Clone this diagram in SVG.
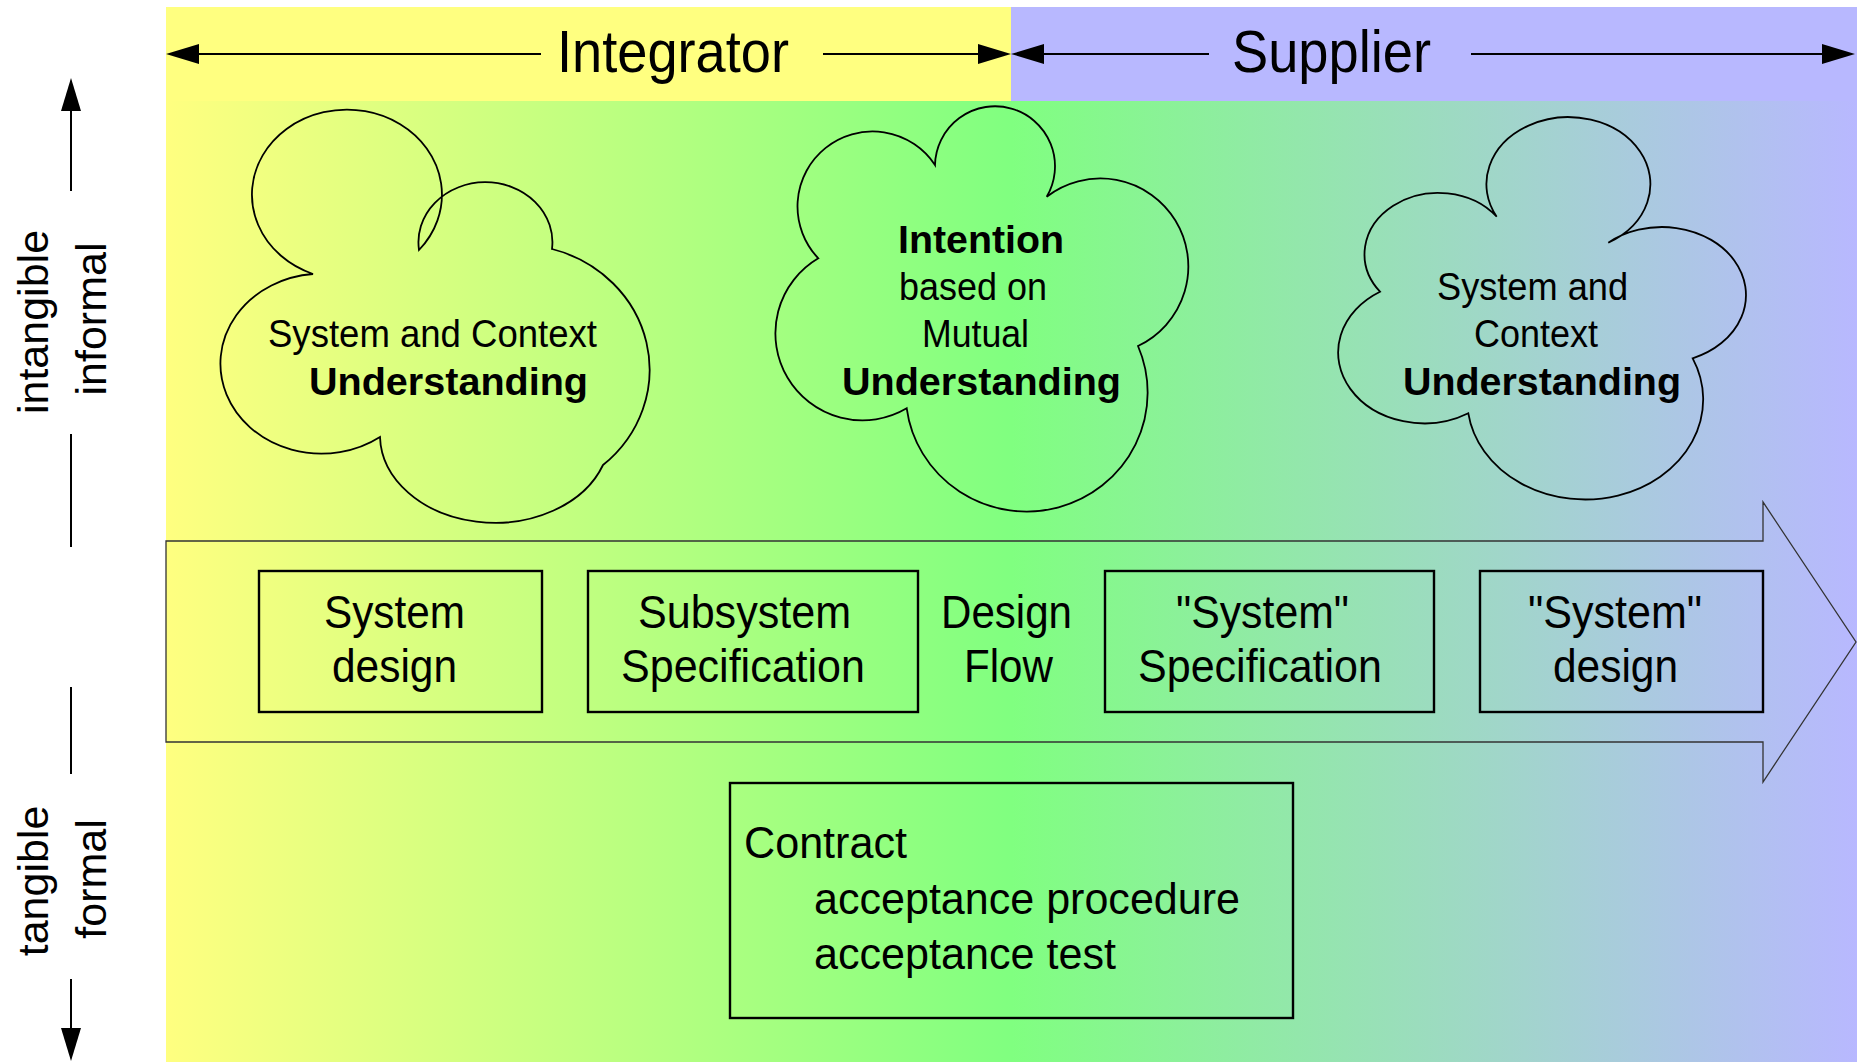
<svg xmlns="http://www.w3.org/2000/svg" width="1860" height="1062" viewBox="0 0 1860 1062">
<defs>
<linearGradient id="bg" gradientUnits="userSpaceOnUse" x1="166" y1="0" x2="1857" y2="0">
<stop offset="0" stop-color="#ffff80"/>
<stop offset="0.5" stop-color="#80ff80"/>
<stop offset="1" stop-color="#b8b8ff"/>
</linearGradient>
<marker id="ah" markerUnits="userSpaceOnUse" markerWidth="33" markerHeight="20" refX="0" refY="10" orient="auto-start-reverse" viewBox="0 0 33 20">
<path d="M0,0 L33,10 L0,20 Z" fill="#000"/>
</marker>
</defs>
<style>
text{font-family:"Liberation Sans",Arial,Helvetica,sans-serif;fill:#000}
.band{font-size:60px}
.cl{font-size:38px}
.b{font-weight:bold}
.bx{font-size:46px}
.ct{font-size:44px}
.side{font-size:43px;text-anchor:middle}
.cloud{fill:none;stroke:#000;stroke-width:1.8;stroke-linejoin:miter}
.box{fill:none;stroke:#000;stroke-width:2.4}
.ln{stroke:#000;stroke-width:2;fill:none}
</style>

<g id="background">
<rect x="166" y="101" width="1691" height="961" fill="url(#bg)"/>
<rect x="166" y="7" width="845" height="94" fill="#ffff80"/>
<rect x="1011" y="7" width="846" height="94" fill="#b8b8ff"/>
</g>

<g id="labels-band">
<text class="band" x="557" y="72" textLength="232" lengthAdjust="spacingAndGlyphs">Integrator</text>
<text class="band" x="1232" y="72" textLength="199" lengthAdjust="spacingAndGlyphs">Supplier</text>
</g>

<g id="side-labels">
<text class="side" transform="translate(48,322) rotate(-90)">intangible</text>
<text class="side" transform="translate(106,319) rotate(-90)">informal</text>
<text class="side" transform="translate(48,881) rotate(-90)">tangible</text>
<text class="side" transform="translate(106,879) rotate(-90)">formal</text>
</g>

<g id="design-flow">
<path d="M166,541 H1763 V502 L1856,642 L1763,782 V742 H166 Z" fill="none" stroke="#333" stroke-width="1.3"/>
<text class="bx" x="941" y="628" textLength="131" lengthAdjust="spacingAndGlyphs">Design</text>
<text class="bx" x="964" y="682" textLength="89" lengthAdjust="spacingAndGlyphs">Flow</text>
</g>

<g id="cloud-integrator">
<path class="cloud" d="M313,274 A95,85 0 1 1 419,250 A67,60 0 1 1 552,249 A132,125 0 0 1 603,465 A115,88 0 0 1 380,437 A101,90 0 1 1 313,274 Z"/>
<text class="cl" x="268" y="347" textLength="329" lengthAdjust="spacingAndGlyphs">System and Context</text>
<text class="cl b" x="309" y="395" textLength="279" lengthAdjust="spacingAndGlyphs">Understanding</text>
</g>

<g id="cloud-intention">
<path class="cloud" d="M935,165 A60,60 0 1 1 1046.7,196.7 A88,88 0 1 1 1138,346 A121,119 0 1 1 906.7,408.3 A85,85 0 1 1 818.3,258.3 A75,75 0 1 1 935,165 Z"/>
<text class="cl b" x="898" y="253" textLength="166" lengthAdjust="spacingAndGlyphs">Intention</text>
<text class="cl" x="899" y="300" textLength="148" lengthAdjust="spacingAndGlyphs">based on</text>
<text class="cl" x="922" y="347" textLength="107" lengthAdjust="spacingAndGlyphs">Mutual</text>
<text class="cl b" x="842" y="395" textLength="279" lengthAdjust="spacingAndGlyphs">Understanding</text>
</g>

<g id="cloud-supplier">
<path class="cloud" d="M1496.7,216.7 A82,67 0 1 1 1608.3,242.7 A84,68 0 1 1 1692.7,358.3 A118,100 0 1 1 1468.3,413.3 A85,70 0 1 1 1380,291.7 A71,59 0 1 1 1496.7,216.7 Z"/>
<text class="cl" x="1437" y="300" textLength="191" lengthAdjust="spacingAndGlyphs">System and</text>
<text class="cl" x="1474" y="347" textLength="124" lengthAdjust="spacingAndGlyphs">Context</text>
<text class="cl b" x="1403" y="395" textLength="278" lengthAdjust="spacingAndGlyphs">Understanding</text>
</g>

<g id="box-system-design">
<rect class="box" x="259" y="571" width="283" height="141"/>
<text class="bx" x="324" y="628" textLength="141" lengthAdjust="spacingAndGlyphs">System</text>
<text class="bx" x="332" y="682" textLength="125" lengthAdjust="spacingAndGlyphs">design</text>
</g>

<g id="box-subsystem-spec">
<rect class="box" x="588" y="571" width="330" height="141"/>
<text class="bx" x="638" y="628" textLength="213" lengthAdjust="spacingAndGlyphs">Subsystem</text>
<text class="bx" x="621" y="682" textLength="244" lengthAdjust="spacingAndGlyphs">Specification</text>
</g>

<g id="box-system-spec">
<rect class="box" x="1105" y="571" width="329" height="141"/>
<text class="bx" x="1176" y="628" textLength="173" lengthAdjust="spacingAndGlyphs">"System"</text>
<text class="bx" x="1138" y="682" textLength="244" lengthAdjust="spacingAndGlyphs">Specification</text>
</g>

<g id="box-system-design-supplier">
<rect class="box" x="1480" y="571" width="283" height="141"/>
<text class="bx" x="1528" y="628" textLength="174" lengthAdjust="spacingAndGlyphs">"System"</text>
<text class="bx" x="1553" y="682" textLength="125" lengthAdjust="spacingAndGlyphs">design</text>
</g>

<g id="box-contract">
<rect class="box" x="730" y="783" width="563" height="235"/>
<text class="ct" x="744" y="858" textLength="163" lengthAdjust="spacingAndGlyphs">Contract</text>
<text class="ct" x="814" y="914" textLength="426" lengthAdjust="spacingAndGlyphs">acceptance procedure</text>
<text class="ct" x="814" y="969" textLength="302" lengthAdjust="spacingAndGlyphs">acceptance test</text>
</g>

<g id="connectors">
<line class="ln" x1="199" y1="54" x2="541" y2="54" marker-start="url(#ah)"/>
<line class="ln" x1="823" y1="54" x2="978" y2="54" marker-end="url(#ah)"/>
<line class="ln" x1="1044" y1="54" x2="1209" y2="54" marker-start="url(#ah)"/>
<line class="ln" x1="1471" y1="54" x2="1822" y2="54" marker-end="url(#ah)"/>
<line class="ln" x1="71" y1="111" x2="71" y2="191" marker-start="url(#ah)"/>
<line class="ln" x1="71" y1="434" x2="71" y2="547"/>
<line class="ln" x1="71" y1="687" x2="71" y2="774"/>
<line class="ln" x1="71" y1="979" x2="71" y2="1028" marker-end="url(#ah)"/>
</g>
</svg>
